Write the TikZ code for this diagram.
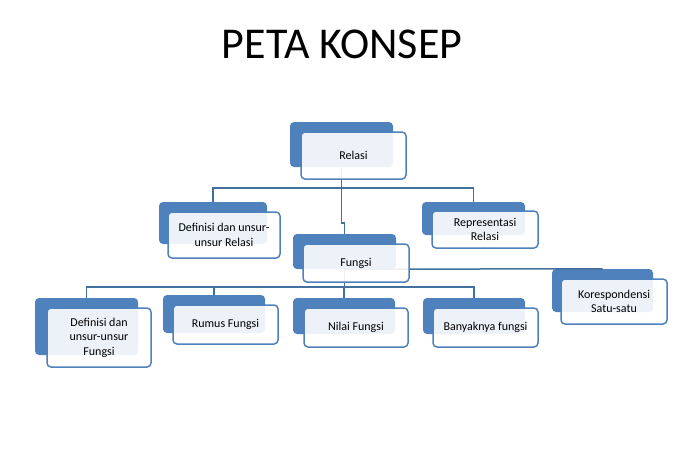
\documentclass[tikz,border=0pt]{standalone}
\usepackage{fontspec}
\setmainfont{Carlito}
\definecolor{boxblue}{HTML}{4F81BD}
\definecolor{lineblue}{HTML}{41719C}
\begin{document}
\begin{tikzpicture}[x=1pt,y=-1pt,
  backbox/.style={fill=boxblue, rounded corners=4pt, inner sep=0pt},
  frontbox/.style={draw=boxblue, line width=1.5pt, fill=white, fill opacity=0.9, text opacity=1,
    rounded corners=4pt, inner sep=0pt, align=center, font=\fontsize{12}{14.5}\selectfont},
  conn/.style={draw=lineblue, line width=1.5pt}]
\useasboundingbox (0,0) rectangle (695,475);
\node[anchor=base, font=\fontsize{44}{50}\selectfont] (title) at (342,58) {PETA KONSEP};
% back boxes
\node[backbox, minimum width=103, minimum height=45] (relB) at (341.5,144.5) {};
\node[backbox, minimum width=108, minimum height=42] (drB) at (213,223) {};
\node[backbox, minimum width=103, minimum height=33] (repB) at (473.5,218.5) {};
\node[backbox, minimum width=103, minimum height=35] (funB) at (344.5,251.5) {};
\node[backbox, minimum width=101, minimum height=43] (korB) at (602.5,290.5) {};
\node[backbox, minimum width=103, minimum height=57] (dfB) at (86.5,326.5) {};
\node[backbox, minimum width=102, minimum height=38] (rumB) at (214,314) {};
\node[backbox, minimum width=102, minimum height=36] (nilB) at (344,316) {};
\node[backbox, minimum width=102, minimum height=36] (banB) at (474,316) {};
% connectors
\draw[conn] (relB.south) -- ++(0,21) -| (drB.north);
\draw[conn] (relB.south) -- ++(0,21) -| (repB.north);
\draw[conn] (relB.south) -- ++(0,56) -| (funB.north);
\draw[conn] (funB.south) -- ++(0,18) -| (dfB.north);
\draw[conn] (funB.south) -- ++(0,18) -| (rumB.north);
\draw[conn] (funB.south) -- ++(0,18) -| (nilB.north);
\draw[conn] (funB.south) -- ++(0,18) -| (banB.north);
\draw[conn] (funB.south) -- (korB.north);
% front boxes
\node[frontbox, minimum width=105, minimum height=47] (relF) at (353.5,155.5) {Relasi};
\node[frontbox, minimum width=112, minimum height=46] (drF) at (224,235) {Definisi dan unsur-\\unsur Relasi};
\node[frontbox, minimum width=106, minimum height=37] (repF) at (485,229.5) {Representasi\\Relasi};
\node[frontbox, minimum width=106, minimum height=38] (funF) at (356,263) {Fungsi};
\node[frontbox, minimum width=106, minimum height=45] (korF) at (614,301.5) {Korespondensi\\Satu-satu};
\node[frontbox, minimum width=104, minimum height=59] (dfF) at (99,337.5) {Definisi dan\\unsur-unsur\\Fungsi};
\node[frontbox, minimum width=105, minimum height=39] (rumF) at (225.5,324.5) {Rumus Fungsi};
\node[frontbox, minimum width=104, minimum height=39] (nilF) at (356,327.5) {Nilai Fungsi};
\node[frontbox, minimum width=105, minimum height=39] (banF) at (485.5,327.5) {Banyaknya fungsi};
\end{tikzpicture}
\end{document}
